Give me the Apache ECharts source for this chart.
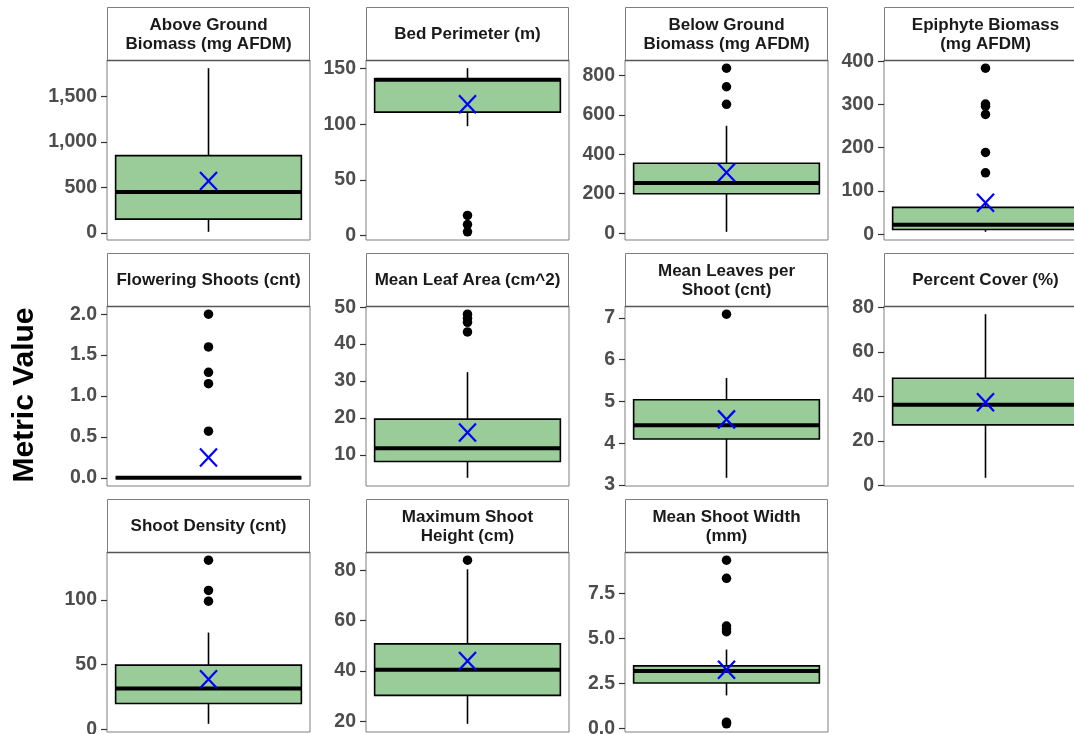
<!DOCTYPE html>
<html>
<head>
<meta charset="utf-8">
<script src="https://cdn.jsdelivr.net/npm/echarts@6/dist/echarts.min.js"></script>
<style>
html,body{margin:0;padding:0;background:#fff;}
#chart{width:1074px;height:734px;}
</style>
</head>
<body>
<div id="chart"></div>
<script>
// ---- data ----
const titles = [
  'Above Ground\nBiomass (mg AFDM)',
  'Bed Perimeter (m)',
  'Below Ground\nBiomass (mg AFDM)',
  'Epiphyte Biomass\n(mg AFDM)',
  'Flowering Shoots (cnt)',
  'Mean Leaf Area (cm^2)',
  'Mean Leaves per\nShoot (cnt)',
  'Percent Cover (%)',
  'Shoot Density (cnt)',
  'Maximum Shoot\nHeight (cm)',
  'Mean Shoot Width\n(mm)'
];
const whiskerLow  = [11, 98.4, 7, 5.5, 0, 3.8, 3.17, 3.5, 4.2, 19.1, 1.82];
const q1          = [151, 111, 200, 10.7, 0, 8.2, 4.10, 27.3, 19.9, 30.4, 2.51];
const medians     = [449, 140, 254, 21.6, 0, 11.8, 4.43, 36.3, 31.5, 40.5, 3.18];
const q3          = [850, 141, 354, 62, 0, 19.7, 5.04, 48.2, 49.5, 50.8, 3.46];
const whiskerHigh = [1814, 150.5, 544, 70, 0, 32.4, 5.56, 77, 74.7, 80.4, 4.37];
const means       = [571, 118, 307, 73, 0.248, 16.1, 4.57, 37.4, 38.7, 44.0, 3.25];
const outliers = [
  [],
  [18.2, 10.0, 3.5],
  [836, 742, 653],
  [384, 301, 296, 277, 189, 142],
  [2.0, 1.6, 1.29, 1.15, 0.57],
  [48.1, 47.0, 45.9, 43.3],
  [7.09],
  [],
  [130.6, 107.2, 98.9],
  [84.0],
  [9.34, 8.33, 5.68, 5.51, 5.36, 0.33, 0.24]
];
const tickValues = [
  [0, 500, 1000, 1500],
  [0, 50, 100, 150],
  [0, 200, 400, 600, 800],
  [0, 100, 200, 300, 400],
  [0, 0.5, 1, 1.5, 2],
  [10, 20, 30, 40, 50],
  [3, 4, 5, 6, 7],
  [0, 20, 40, 60, 80],
  [0, 50, 100],
  [20, 40, 60, 80],
  [0, 2.5, 5, 7.5]
];
const tickLabels = [
  ['0', '500', '1,000', '1,500'],
  ['0', '50', '100', '150'],
  ['0', '200', '400', '600', '800'],
  ['0', '100', '200', '300', '400'],
  ['0.0', '0.5', '1.0', '1.5', '2.0'],
  ['10', '20', '30', '40', '50'],
  ['3', '4', '5', '6', '7'],
  ['0', '20', '40', '60', '80'],
  ['0', '50', '100'],
  ['20', '40', '60', '80'],
  ['0.0', '2.5', '5.0', '7.5']
];

// ---- layout ----
const FONT = '"Liberation Sans", Arial, sans-serif';
const PANEL_W = 203, PANEL_H = 180, STRIP_H = 53;
const colLeft = c => 107 + c * 259;
const rowTop = r => 60 + r * 246;

const grids = [], xAxes = [], yAxes = [], series = [], graphics = [];

titles.forEach((t, i) => {
  const col = i % 4, row = Math.floor(i / 4);
  const left = colLeft(col), top = rowTop(row);
  const all = [whiskerLow[i], whiskerHigh[i]].concat(outliers[i]);
  const lo = Math.min(...all), hi = Math.max(...all);
  const pad = 0.05 * (hi - lo);

  grids.push({
    left: left, top: top, width: PANEL_W, height: PANEL_H,
    show: true, borderColor: '#7f7f7f', borderWidth: 1, backgroundColor: '#fff',
    containLabel: false, outerBoundsMode: 'none'
  });
  xAxes.push({
    type: 'category', gridIndex: i, data: ['v'],
    axisLine: {show: false}, axisTick: {show: false}, axisLabel: {show: false},
    splitLine: {show: false}
  });
  const tv = tickValues[i], tl = tickLabels[i];
  yAxes.push({
    type: 'value', gridIndex: i, min: lo - pad, max: hi + pad,
    axisLine: {show: false},
    splitLine: {show: false},
    axisTick: {show: true, length: 6, customValues: tv, lineStyle: {color: '#333', width: 1.2}},
    axisLabel: {
      show: true, customValues: tv, margin: 10,
      color: '#4d4d4d', fontWeight: 'bold', fontSize: 19.5, fontFamily: FONT,
      formatter: v => {
        const k = tv.findIndex(x => Math.abs(x - v) < 1e-9);
        return k >= 0 ? tl[k] : '';
      }
    }
  });

  series.push({
    type: 'custom', xAxisIndex: i, yAxisIndex: i,
    data: [[0, whiskerLow[i], q1[i], medians[i], q3[i], whiskerHigh[i], means[i]]],
    encode: {x: 0, y: [1, 2, 3, 4, 5, 6]},
    clip: false,
    renderItem: (params, api) => {
      const x = api.value(0);
      const band = api.size([1, 0])[0];
      const bw = band * 0.915;
      const pWL = api.coord([x, api.value(1)]);
      const pQ1 = api.coord([x, api.value(2)]);
      const pMd = api.coord([x, api.value(3)]);
      const pQ3 = api.coord([x, api.value(4)]);
      const pWH = api.coord([x, api.value(5)]);
      const pMn = api.coord([x, api.value(6)]);
      const cx = pQ1[0];
      const blk = {stroke: '#000', lineWidth: 1.6};
      const xs = 8.5, ys = 9;
      return {
        type: 'group',
        children: [
          {type: 'line', shape: {x1: cx, y1: pWL[1], x2: cx, y2: pQ1[1]}, style: blk},
          {type: 'line', shape: {x1: cx, y1: pQ3[1], x2: cx, y2: pWH[1]}, style: blk},
          {type: 'rect', shape: {x: cx - bw / 2, y: pQ3[1], width: bw, height: pQ1[1] - pQ3[1]},
           style: {fill: '#99cc99', stroke: '#000', lineWidth: 1.6}},
          {type: 'line', shape: {x1: cx - bw / 2, y1: pMd[1], x2: cx + bw / 2, y2: pMd[1]},
           style: {stroke: '#000', lineWidth: 4}},
          {type: 'line', shape: {x1: pMn[0] - xs, y1: pMn[1] - ys, x2: pMn[0] + xs, y2: pMn[1] + ys},
           style: {stroke: '#0000ff', lineWidth: 2.2}, z2: 10},
          {type: 'line', shape: {x1: pMn[0] - xs, y1: pMn[1] + ys, x2: pMn[0] + xs, y2: pMn[1] - ys},
           style: {stroke: '#0000ff', lineWidth: 2.2}, z2: 10}
        ]
      };
    }
  });
  series.push({
    type: 'scatter', xAxisIndex: i, yAxisIndex: i,
    data: outliers[i].map(v => [0, v]),
    symbol: 'circle', symbolSize: 9.5,
    itemStyle: {color: '#000', opacity: 1},
    z: 3, silent: true
  });

  // strip
  graphics.push({
    type: 'rect', shape: {x: left + 0.5, y: top - STRIP_H + 0.5, width: PANEL_W - 1, height: STRIP_H},
    style: {fill: '#fff', stroke: '#7f7f7f', lineWidth: 1}, z: 10
  });
  graphics.push({
    type: 'line', shape: {x1: left, y1: top + 0.5, x2: left + PANEL_W, y2: top + 0.5},
    style: {stroke: '#555', lineWidth: 1.6}, z: 11
  });
  graphics.push({
    type: 'text', x: left + PANEL_W / 2, y: top - STRIP_H / 2 + 1, z: 12,
    style: {
      text: t, fill: '#1a1a1a', font: 'bold 17px ' + FONT,
      align: 'center', verticalAlign: 'middle', textAlign: 'center', textVerticalAlign: 'middle',
      lineHeight: 19
    }
  });
});

graphics.push({
  type: 'text', x: 25, y: 395, rotation: Math.PI / 2, z: 12,
  style: {
    text: 'Metric Value', fill: '#000', font: 'bold 30px ' + FONT,
    align: 'center', verticalAlign: 'middle', textAlign: 'center', textVerticalAlign: 'middle'
  }
});

const chart = echarts.init(document.getElementById('chart'), null, {renderer: 'canvas'});
chart.setOption({
  animation: false,
  backgroundColor: '#fff',
  grid: grids, xAxis: xAxes, yAxis: yAxes, series: series, graphic: graphics
});
</script>
</body>
</html>
